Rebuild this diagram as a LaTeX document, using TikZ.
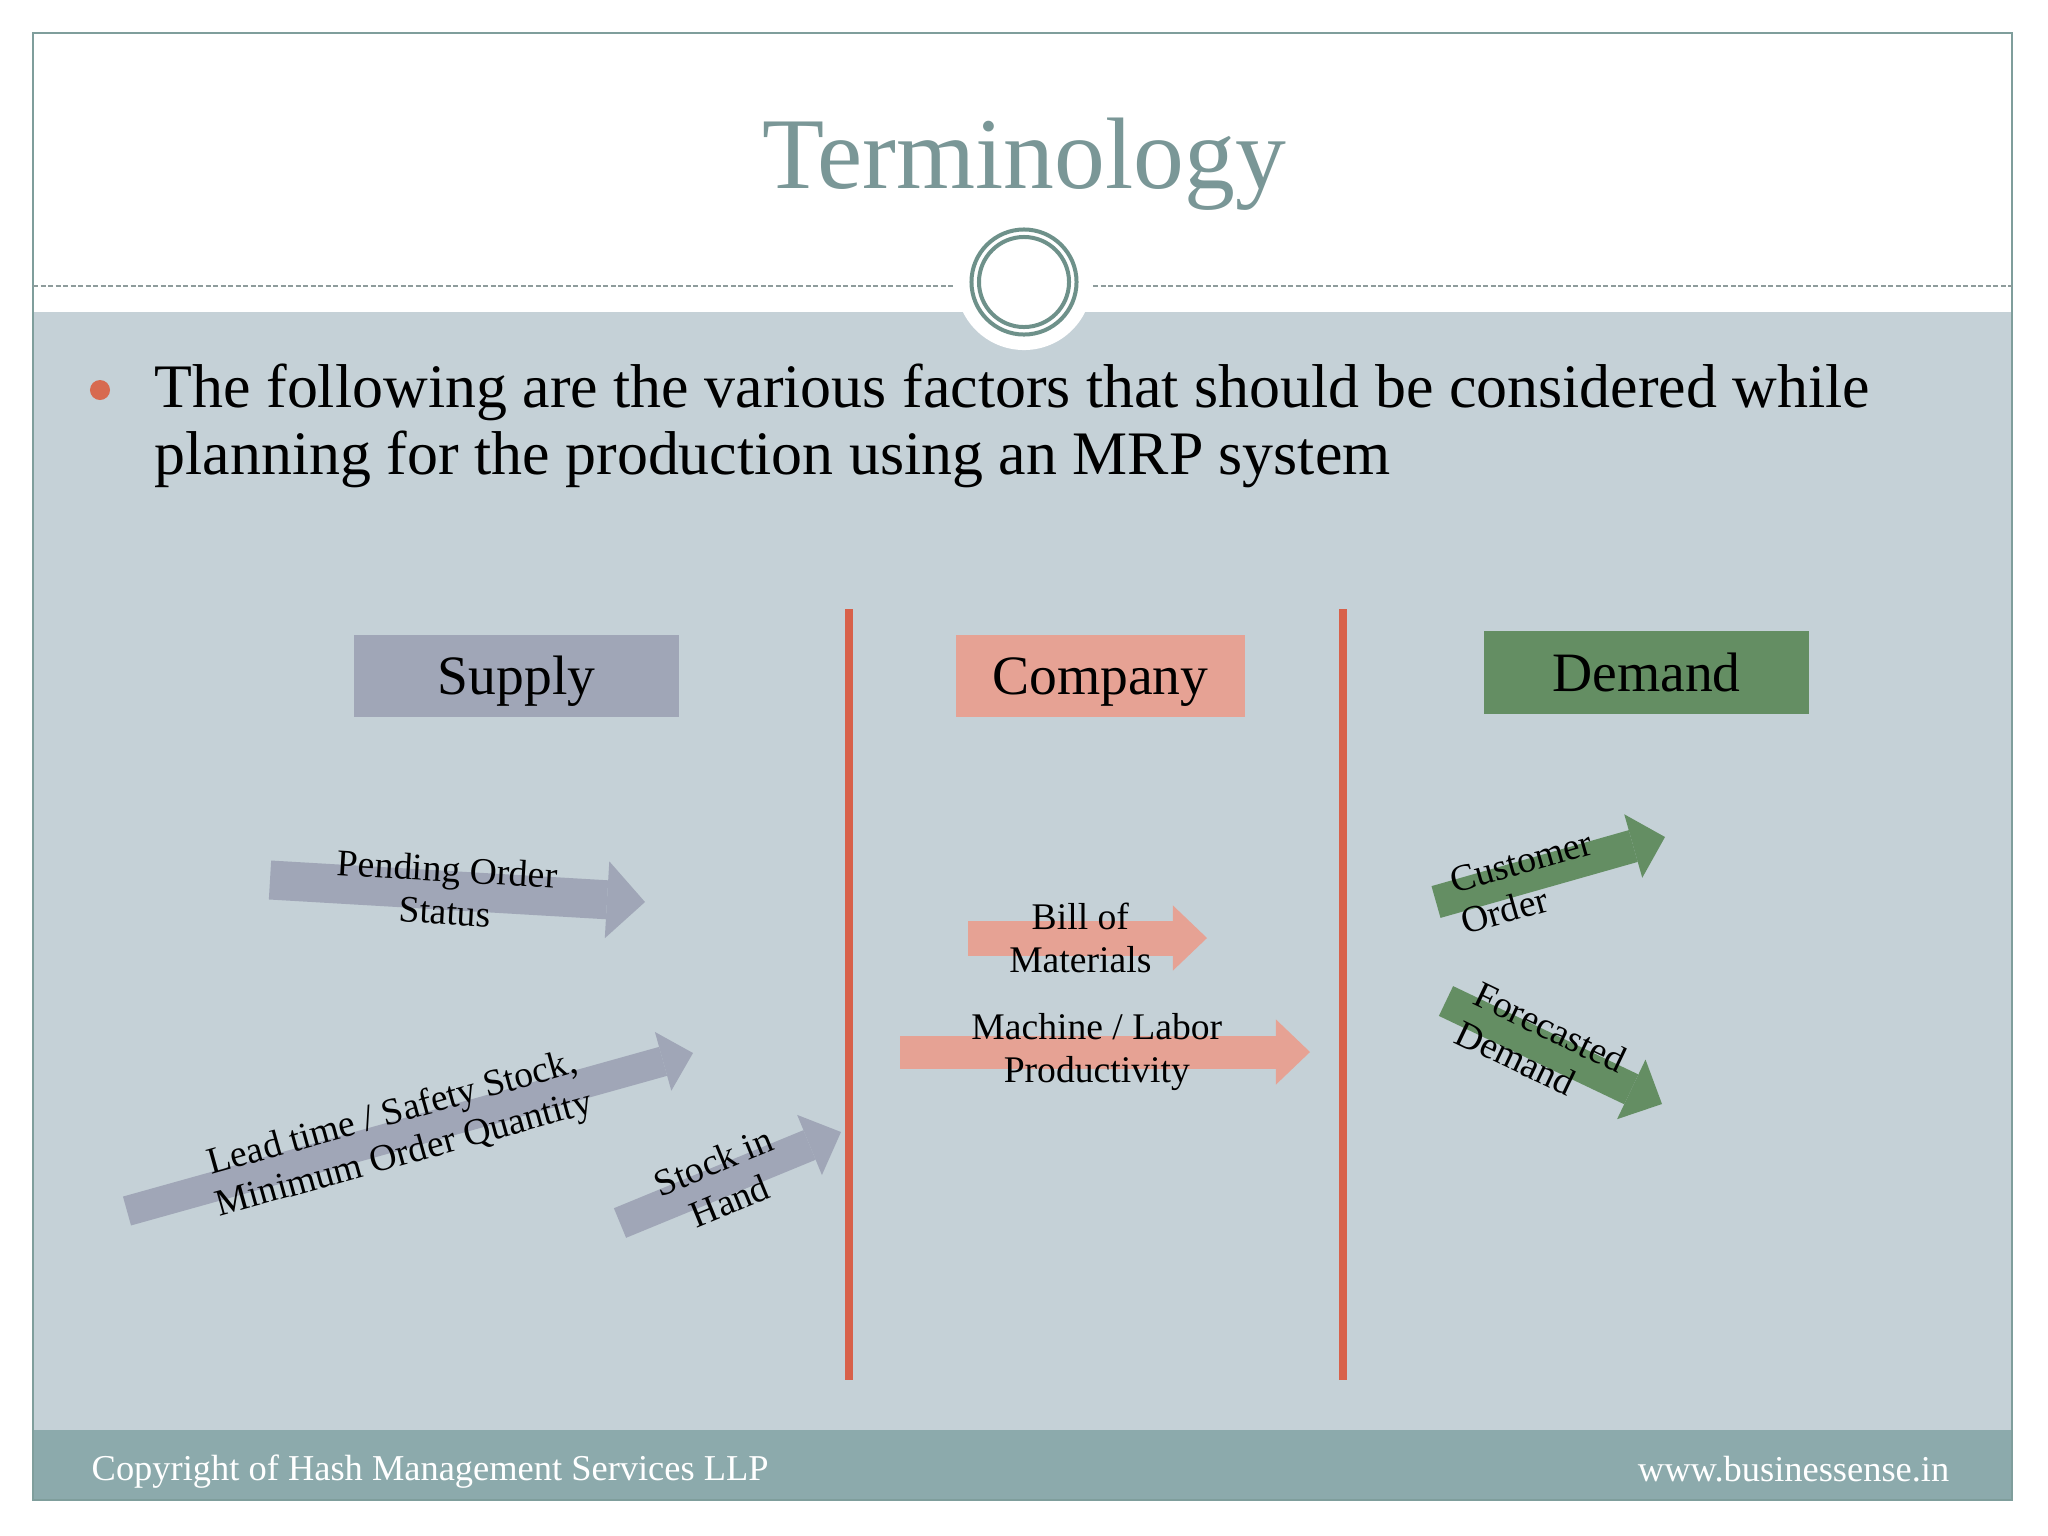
\documentclass[tikz,border=0pt]{standalone}
\usepackage{fontspec}
\setmainfont{Liberation Serif}
\usetikzlibrary{arrows.meta}

\definecolor{slidebg}{HTML}{C5D1D7}
\definecolor{footbar}{HTML}{8CAAAC}
\definecolor{framecol}{HTML}{7F9E9C}
\definecolor{titlecol}{HTML}{7A9797}
\definecolor{ringcol}{HTML}{6E918A}
\definecolor{dashcol}{HTML}{8E9C9C}
\definecolor{supplycol}{HTML}{A0A6B7}
\definecolor{companycol}{HTML}{E6A294}
\definecolor{demandcol}{HTML}{648E63}
\definecolor{redline}{HTML}{D8614A}
\definecolor{bulletcol}{HTML}{D76A50}

\begin{document}
\begin{tikzpicture}[x=0.01cm,y=-0.01cm,
  catbox/.style={minimum width=3.25cm,minimum height=0.82cm,inner sep=0pt,
    text height=0.37cm,text depth=0pt,font=\fontsize{15.8}{18}\selectfont},
  factor/.style={line width=0.32cm,-{Triangle[length=0.34cm,width=0.65cm,line width=0pt]}},
  factorlabel/.style={sloped,align=center,inner sep=0pt,font=\fontsize{10.7}{12.1}\selectfont}]
\useasboundingbox (0,0) rectangle (2048,1536);
\fill[white] (0,0) rectangle (2048,1536);

% slide frame
\fill[slidebg] (33,312) rectangle (2012,1430);
\fill[footbar] (33,1430) rectangle (2012,1500);
\draw[framecol,line width=0.02cm] (33,33) rectangle (2012,1500);

% title area
\node[anchor=base,text=titlecol,font=\fontsize{28.9}{30}\selectfont] (title) at (1024,188) {Terminology};
\draw[dashcol,line width=0.015cm,dash pattern=on 0.05cm off 0.025cm] (33,286) -- (953,286);
\draw[dashcol,line width=0.015cm,dash pattern=on 0.05cm off 0.025cm] (1093,286) -- (2012,286);
\fill[white] (1024,282) circle (0.68cm);
\draw[ringcol,line width=0.04cm] (1024,282) circle (0.525cm);
\draw[ringcol,line width=0.04cm] (1024,282) circle (0.45cm);

% bullet
\fill[bulletcol] (100,390) circle (0.1cm);
\node[anchor=base west,align=left,inner sep=0pt,font=\fontsize{17.6}{18.9}\selectfont] (intro) at (154,474)
  {The following are the various factors that should be considered while\\
   planning for the production using an MRP system};

% dividers
\coordinate (divAtop) at (849,609);
\coordinate (divAbot) at (849,1380);
\coordinate (divBtop) at (1343,609);
\coordinate (divBbot) at (1343,1380);
\draw[redline,line width=0.08cm] (divAtop) -- (divAbot);
\draw[redline,line width=0.08cm] (divBtop) -- (divBbot);

% headings
\node[catbox,fill=supplycol] (supply) at (516.5,676) {Supply};
\node[catbox,fill=companycol,minimum width=2.89cm] (company) at (1100.5,676) {Company};
\node[catbox,fill=demandcol] (demand) at (1646.5,672.5) {Demand};

% supply side
\coordinate (pendTail) at (270,880);
\coordinate (pendTip) at (645,902);
\draw[supplycol,line width=0.39cm,-{Triangle[length=0.38cm,width=0.77cm,line width=0pt]}] (pendTail) -- (pendTip);
\path (pendTail) -- node[factorlabel,pos=.47] (pend) {Pending Order\\Status} (pendTip);

\coordinate (leadTail) at (127,1211);
\coordinate (leadTip) at (693,1053);
\draw[supplycol,factor,line width=0.30cm,-{Triangle[length=0.31cm,width=0.61cm,line width=0pt]}] (leadTail) -- (leadTip);
\path (leadTail) -- node[factorlabel,pos=.48] (lead) {Lead time / Safety Stock,\\Minimum Order Quantity} (leadTip);

\coordinate (stockTail) at (620,1223);
\coordinate (stockTip) at (841,1132);
\draw[supplycol,factor] (stockTail) -- (stockTip);
\path (stockTail) -- node[factorlabel,pos=.46] (stock) {Stock in\\Hand} (stockTip);

% company side
\coordinate (bomTail) at (968,938);
\coordinate (bomTip) at (1207,938);
\draw[companycol,factor,line width=0.35cm] (bomTail) -- (bomTip);
\path (bomTail) -- node[factorlabel,pos=.47] (bom) {Bill of\\Materials} (bomTip);

\coordinate (machTail) at (900,1052);
\coordinate (machTip) at (1310,1052);
\draw[companycol,factor,line width=0.33cm] (machTail) -- (machTip);
\path (machTail) -- node[factorlabel,pos=.48] (mach) {Machine / Labor\\Productivity} (machTip);

% demand side
\coordinate (custTail) at (1436,902);
\coordinate (custTip) at (1665,837);
\draw[demandcol,factor,line width=0.33cm,-{Triangle[length=0.33cm,width=0.66cm,line width=0pt]}] (custTail) -- (custTip);
\path (custTail) -- node[factorlabel,align=left,pos=.39,yshift=-0.06cm] (cust) {Customer\\Order} (custTip);

\coordinate (foreTail) at (1446,1001);
\coordinate (foreTip) at (1662,1104);
\draw[demandcol,factor,line width=0.33cm,-{Triangle[length=0.34cm,width=0.66cm,line width=0pt]}] (foreTail) -- (foreTip);
\path (foreTail) -- node[factorlabel,align=left,pos=.44] (fore) {Forecasted\\Demand} (foreTip);

% footer
\node[anchor=base west,text=white,inner sep=0pt,font=\fontsize{10.36}{12}\selectfont] (copyright) at (91,1480)
  {Copyright of Hash Management Services LLP};
\node[anchor=base east,text=white,inner sep=0pt,font=\fontsize{10.36}{12}\selectfont] (website) at (1950,1481)
  {www.businessense.in};
\end{tikzpicture}
\end{document}
